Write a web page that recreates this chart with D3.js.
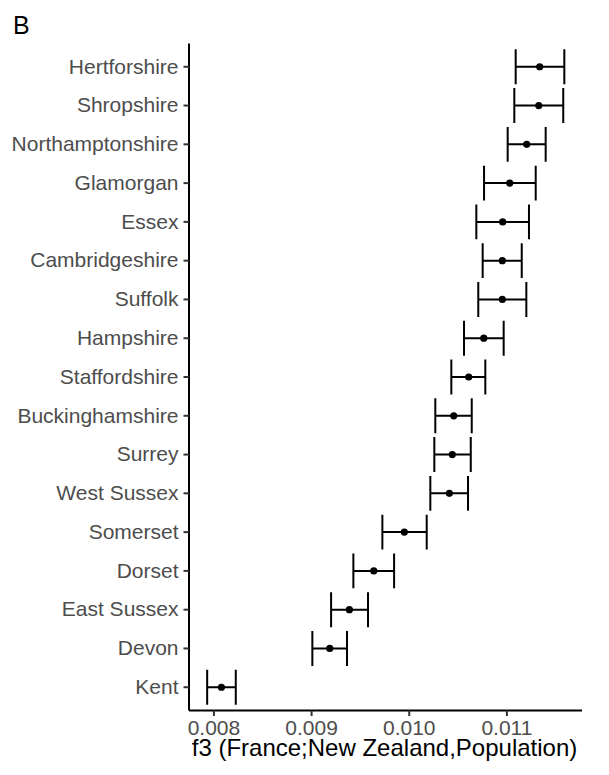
<!DOCTYPE html>
<html>
<head>
<meta charset="utf-8">
<script src="https://cdn.jsdelivr.net/npm/d3@7"></script>
<style>
  html, body { margin: 0; padding: 0; background: #fff; }
  svg { display: block; }
  text { font-family: "Liberation Sans", Arial, Helvetica, sans-serif; }
</style>
</head>
<body>
<div id="chart"></div>
<script>
// Counties, top to bottom, with f3 estimate and lower/upper error bounds
const counties = ["Hertforshire", "Shropshire", "Northamptonshire", "Glamorgan", "Essex",
  "Cambridgeshire", "Suffolk", "Hampshire", "Staffordshire", "Buckinghamshire", "Surrey",
  "West Sussex", "Somerset", "Dorset", "East Sussex", "Devon", "Kent"];
const f3 = [0.011341, 0.011331, 0.011208, 0.011034, 0.010962, 0.010958, 0.010958, 0.010768,
  0.010614, 0.010461, 0.010446, 0.010416, 0.009955, 0.009642, 0.009392, 0.009191, 0.008082];
const lower = [0.011095, 0.011081, 0.011013, 0.010771, 0.010692, 0.010757, 0.010712, 0.010566,
  0.010436, 0.010272, 0.010262, 0.010221, 0.009730, 0.009433, 0.009205, 0.009013, 0.007936];
const upper = [0.011593, 0.011582, 0.011402, 0.011300, 0.011231, 0.011157, 0.011204, 0.010972,
  0.010784, 0.010645, 0.010635, 0.010607, 0.010184, 0.009850, 0.009583, 0.009368, 0.008229];
const xTicks = [0.008, 0.009, 0.010, 0.011];
const xDomain = [0.00775, 0.011774];
const panelTag = "B";
const xTitle = "f3 (France;New Zealand,Population)";

const W = 609, H = 775;
const margin = { left: 189, right: 27, top: 43.5, bottom: 64.5 };

const svg = d3.select("#chart").append("svg")
  .attr("width", W).attr("height", H);

const x = d3.scaleLinear().domain(xDomain).range([margin.left, W - margin.right]);
const y = d3.scaleBand().domain(counties)
  .range([margin.top, H - margin.bottom])
  .paddingOuter(0.1).paddingInner(0);
// band centre helper
const yc = c => y(c) + y.bandwidth() / 2;

// Axes
const xAxis = svg.append("g")
  .attr("transform", `translate(0,${H - margin.bottom})`)
  .call(d3.axisBottom(x).tickValues(xTicks).tickFormat(d3.format(".3f")).tickSize(5.5).tickPadding(4));
const yAxis = svg.append("g")
  .attr("transform", `translate(${margin.left},0)`)
  .call(d3.axisLeft(y).tickSize(5.5).tickPadding(5));

[xAxis, yAxis].forEach(g => {
  g.select(".domain").attr("stroke", "#000").attr("stroke-width", 2);
  g.selectAll(".tick line").attr("stroke", "#333").attr("stroke-width", 2);
  g.selectAll(".tick text").attr("fill", "#4D4D4D").style("font-size", "21px")
    .style("font-family", "\"Liberation Sans\", Arial, sans-serif");
});
xAxis.select(".domain").attr("d", `M${margin.left},0H${W - margin.right}`);
yAxis.select(".domain").attr("d", `M0,${margin.top}V${H - margin.bottom}`);
xAxis.selectAll(".tick text").attr("dy", "0.71em");

// Error bars
const capHalf = y.bandwidth() * 0.9 / 2;
const rows = counties.map((c, i) => ({ c, v: f3[i], lo: lower[i], hi: upper[i] }));
const bars = svg.append("g").attr("stroke", "#000").attr("stroke-width", 2).attr("fill", "none");
bars.selectAll("path").data(rows).join("path")
  .attr("d", d => {
    const cy = yc(d.c), x0 = x(d.lo), x1 = x(d.hi);
    return `M${x0},${cy - capHalf}V${cy + capHalf}M${x0},${cy}H${x1}M${x1},${cy - capHalf}V${cy + capHalf}`;
  });

// Point estimates
svg.append("g").selectAll("circle").data(rows).join("circle")
  .attr("cx", d => x(d.v)).attr("cy", d => yc(d.c)).attr("r", 3.6).attr("fill", "#000");

// Axis title
svg.append("text")
  .attr("x", (margin.left + W - margin.right) / 2 - 1).attr("y", 755.5)
  .attr("text-anchor", "middle").attr("fill", "#000")
  .style("font-size", "24px").text(xTitle);

// Panel tag
svg.append("text").attr("x", 13).attr("y", 33.5).attr("fill", "#000")
  .style("font-size", "25px").text(panelTag);
</script>
</body>
</html>
